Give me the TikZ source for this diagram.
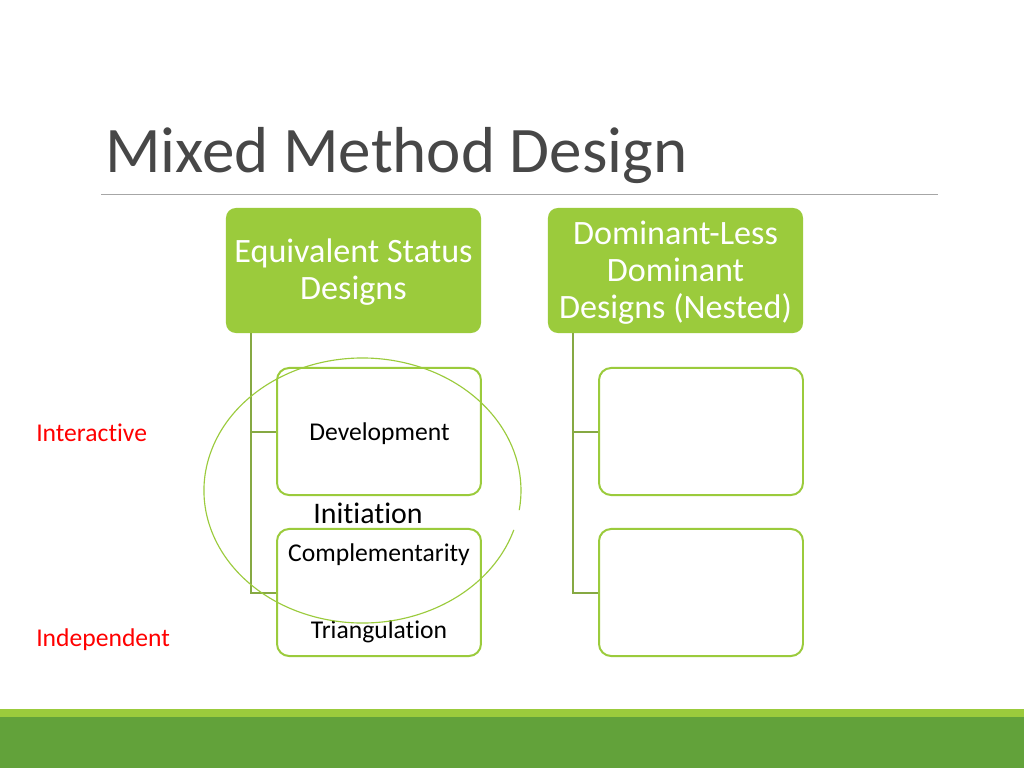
\documentclass[tikz,border=0pt]{standalone}
\usepackage{fontspec}
\setmainfont{Carlito}[Ligatures={NoCommon,NoRequired,NoContextual}]
\definecolor{lg}{HTML}{9BCB3C}
\definecolor{dg}{HTML}{62A23A}
\definecolor{treec}{HTML}{86A943}
\definecolor{ttl}{HTML}{474747}
\definecolor{rulec}{HTML}{A6A6A6}
\definecolor{lab}{HTML}{FF0000}
\begin{document}
\begin{tikzpicture}[x=0.703pt,y=-0.703pt,
  hdr/.style={fill=lg, rounded corners=7pt, minimum width=179.3pt, minimum height=87.9pt,
    text=white, align=center, font=\fontsize{24}{26}\selectfont, inner sep=0pt},
  hdrtext/.style={text=white, align=center, font=\fontsize{24}{26}\selectfont, inner sep=0pt},
  childbox/.style={draw=lg, line width=1.4pt, rounded corners=8.5pt, fill=white,
    minimum width=143.4pt, minimum height=89.3pt, inner sep=0pt},
  treeline/.style={draw=treec, line width=1.4pt},
  boxtext/.style={anchor=base, font=\fontsize{18}{20}\selectfont, text=black, inner sep=0pt},
  sidelab/.style={anchor=base west, font=\fontsize{18}{20}\selectfont, text=lab, inner sep=0pt},
  ringline/.style={draw=lg, line width=0.8pt}]
\fill[white] (0,0) rectangle (1024,768);
\useasboundingbox (0,0) rectangle (1024,768);
% title and rule
\node[anchor=base west, inner sep=0pt, font=\fontsize{45.7}{50}\selectfont, text=ttl] (title) at (105,172) {Mixed Method Design};
\draw[rulec, line width=0.7pt] (101,194) -- (938,194);
% bottom band
\fill[lg] (0,709) rectangle (1024,717);
\fill[dg] (0,717) rectangle (1024,768);
% headers
\node[hdr] (h1) at (353.5,270.5) {};
\node[hdr] (h2) at (675.5,270.5) {};
\node[hdrtext] (h1t) at (353.5,272.5) {Equivalent Status\\Designs};
\node[hdrtext] (h2t) at (675.5,272.5) {Dominant-Less\\Dominant\\Designs (Nested)};
% tree anchors
\coordinate (t1) at (251,333);
\coordinate (t2) at (573,333);
% child boxes
\node[childbox] (c1) at (379,431.5) {};
\node[childbox] (c2) at (379,592.5) {};
\node[childbox] (c3) at (701,431.5) {};
\node[childbox] (c4) at (701,592.5) {};
% tree lines
\draw[treeline] (t1) |- (c1.west);
\draw[treeline] (t1) |- (c2.west);
\draw[treeline] (t2) |- (c3.west);
\draw[treeline] (t2) |- (c4.west);
% texts
\node[boxtext] (dev) at (379.5,440) {Development};
\node[boxtext] (comp) at (379,561) {Complementarity};
\node[boxtext] (tri) at (379,638) {Triangulation};
\node[boxtext, font=\fontsize{21}{23}\selectfont] (ini) at (368,523) {Initiation};
\node[sidelab] (inter) at (36,441) {Interactive};
\node[sidelab] (indep) at (36,646) {Independent};
% ring
\draw[ringline] (513.8,529.9) arc[start angle=17.3, end angle=368.5, x radius=158.5, y radius=132.5];
\end{tikzpicture}
\end{document}
